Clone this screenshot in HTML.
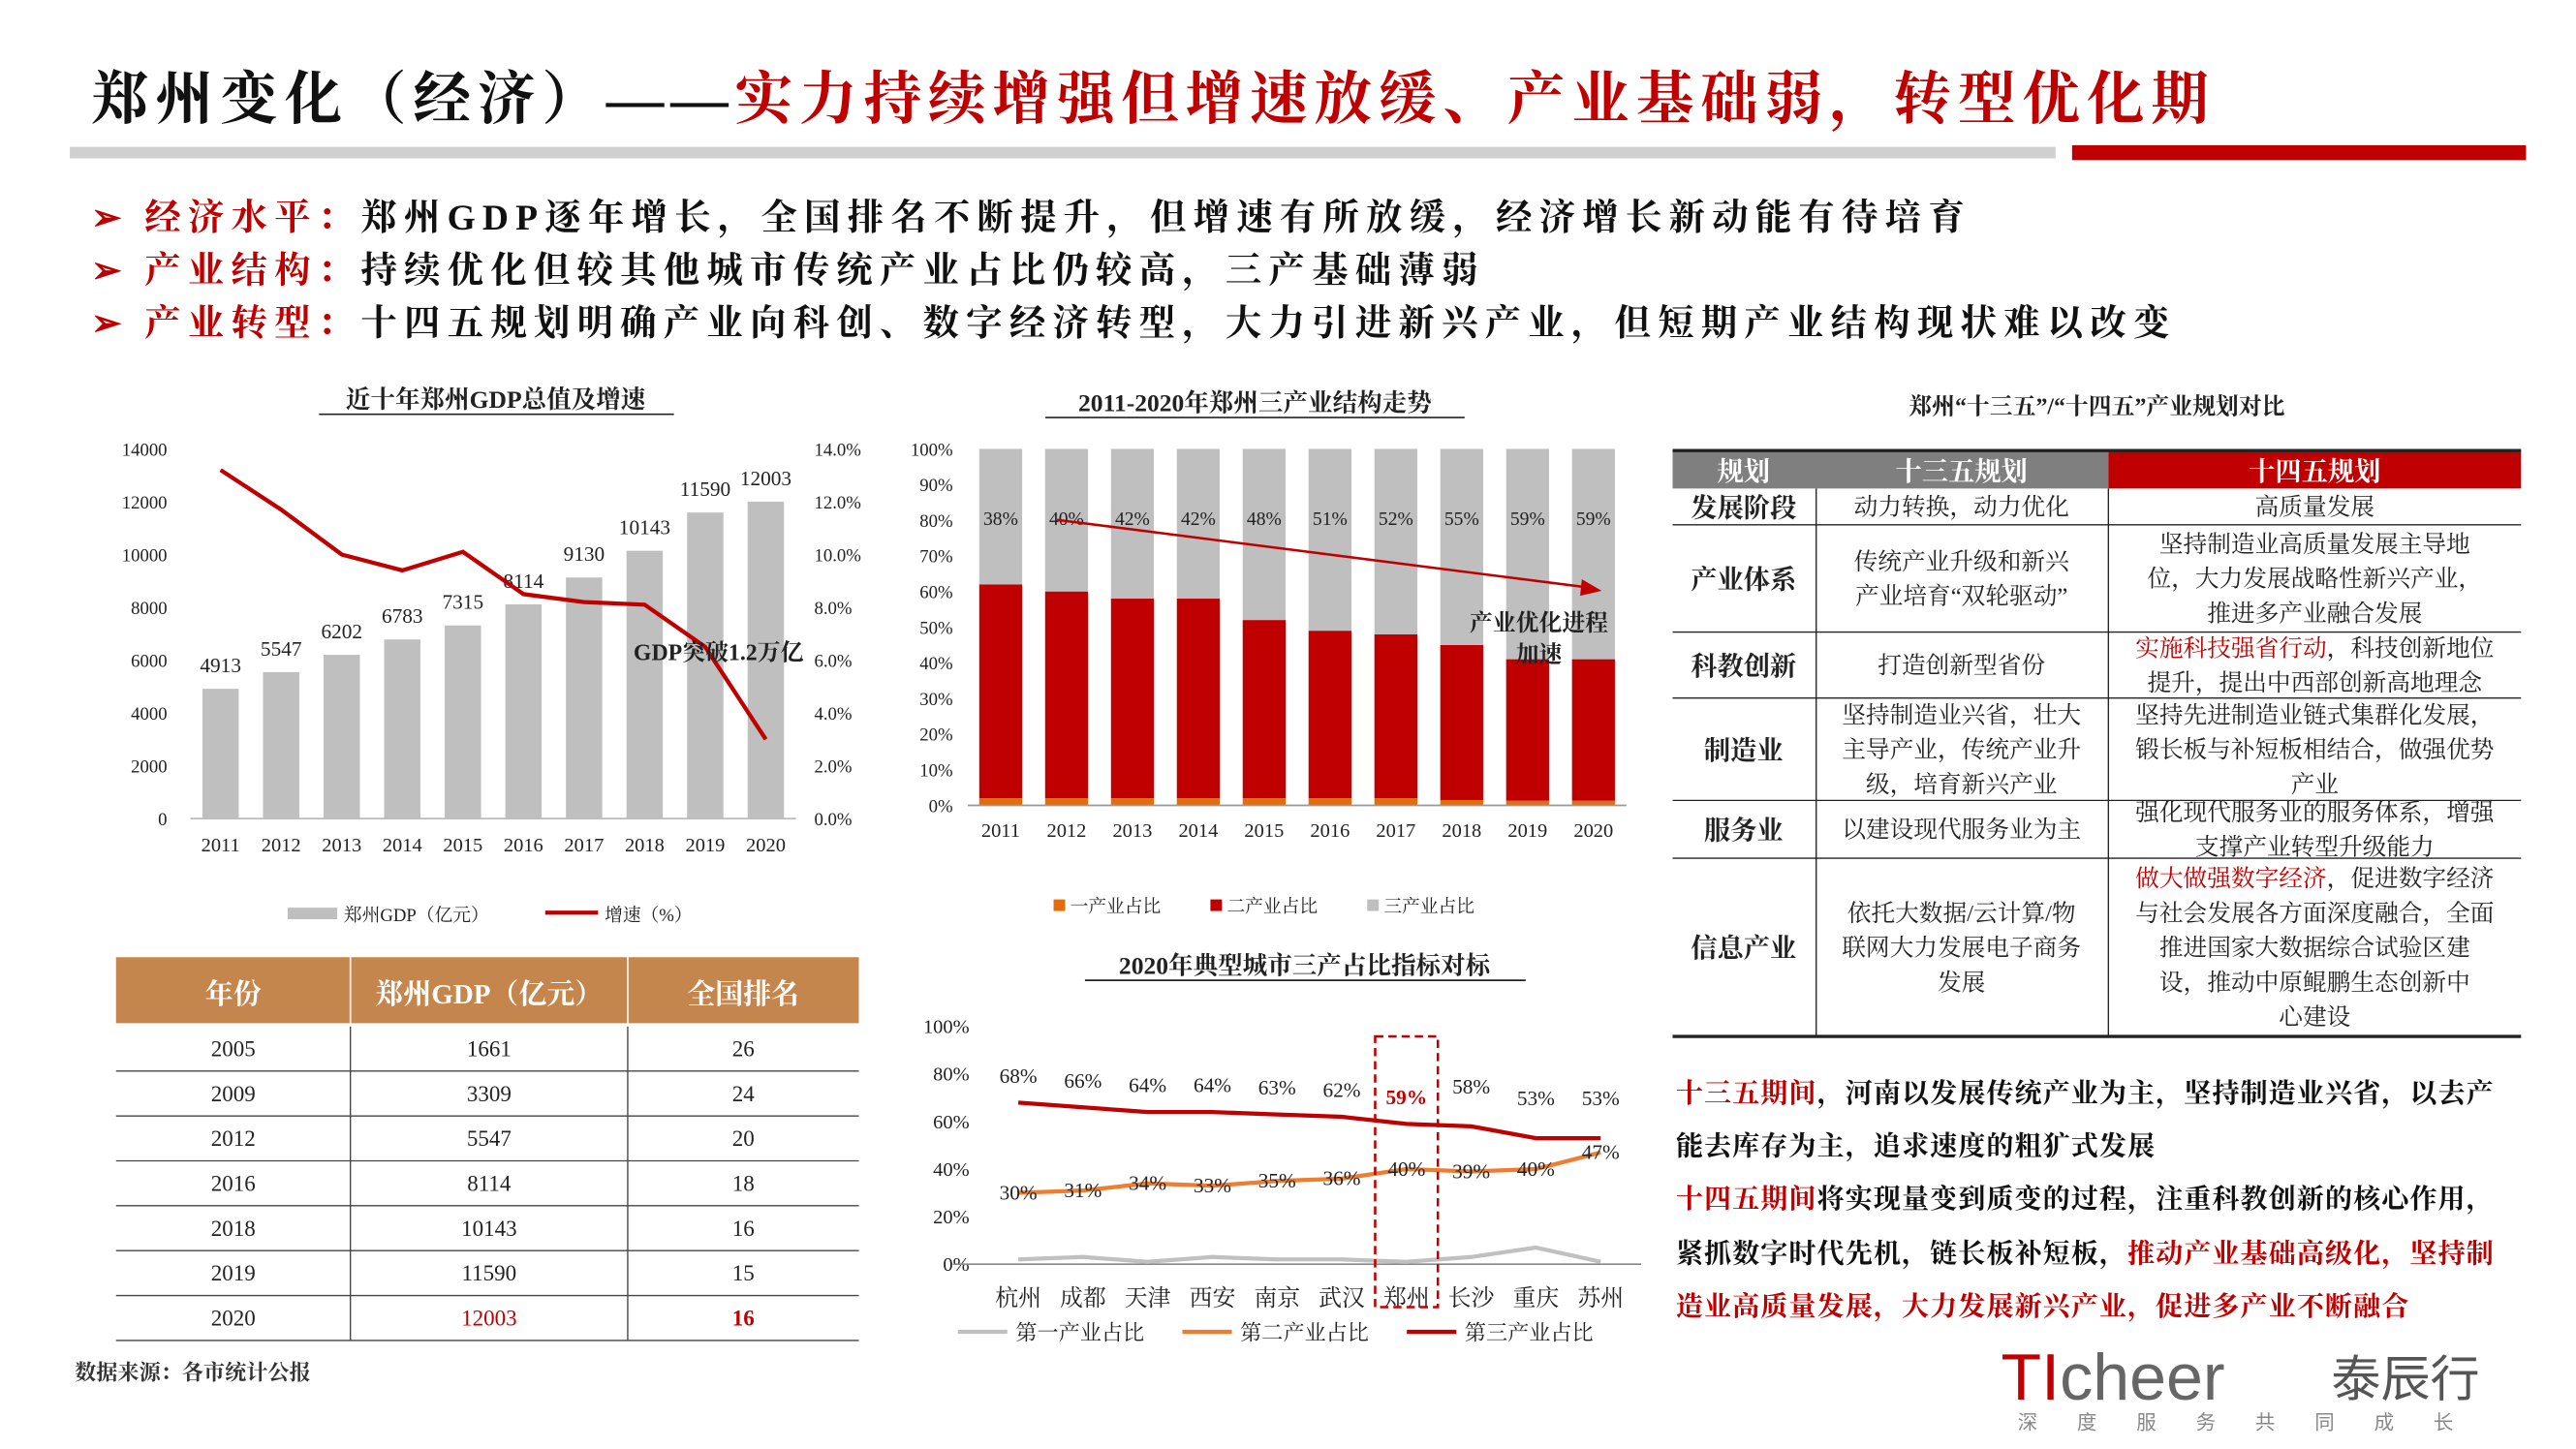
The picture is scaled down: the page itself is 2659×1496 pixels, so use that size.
<!DOCTYPE html>
<html><head><meta charset="utf-8">
<style>
html,body{margin:0;padding:0;background:#fff;}
svg{display:block;font-family:"Liberation Serif","Noto Serif CJK SC","Noto Sans CJK SC",serif;}
</style></head>
<body>
<svg id="s" width="2659" height="1496" viewBox="0 0 1560 878" xmlns="http://www.w3.org/2000/svg">
<text x="55" y="72" font-size="35" font-weight="bold" fill="#111" letter-spacing="4">郑州变化（经济）——<tspan fill="#c00000">实力持续增强但增速放缓、产业基础弱，转型优化期</tspan></text>
<rect x="42" y="89" width="1203" height="7" fill="#d0d0d0"/>
<rect x="1255" y="88" width="275" height="9" fill="#c00000"/>
<g font-size="22" font-weight="bold" letter-spacing="4.2">
<text x="55" y="139" fill="#c00000">➢ 经济水平：<tspan fill="#111">郑州GDP逐年增长，全国排名不断提升，但增速有所放缓，经济增长新动能有待培育</tspan></text>
<text x="55" y="171" fill="#c00000">➢ 产业结构：<tspan fill="#111">持续优化但较其他城市传统产业占比仍较高，三产基础薄弱</tspan></text>
<text x="55" y="203" fill="#c00000">➢ 产业转型：<tspan fill="#111">十四五规划明确产业向科创、数字经济转型，大力引进新兴产业，但短期产业结构现状难以改变</tspan></text>
</g>
<g id="c1"></g>
<g id="c2"></g>
<g id="c3"></g>
<g id="t1"></g>
<g id="t2"></g>
<g font-size="16.5" font-weight="bold" letter-spacing="0.6">
<text x="1015" y="668" fill="#c00000">十三五期间<tspan fill="#111">，河南以发展传统产业为主，坚持制造业兴省，以去产</tspan></text>
<text x="1015" y="700" fill="#111">能去库存为主，追求速度的粗犷式发展</text>
<text x="1015" y="732" fill="#c00000">十四五期间<tspan fill="#111">将实现量变到质变的过程，注重科教创新的核心作用，</tspan></text>
<text x="1015" y="765" fill="#111">紧抓数字时代先机，链长板补短板，<tspan fill="#c00000">推动产业基础高级化，坚持制</tspan></text>
<text x="1015" y="797" fill="#c00000">造业高质量发展，大力发展新兴产业，促进多产业不断融合</text>
</g>
<text x="45" y="836" font-size="13" font-weight="bold" fill="#333">数据来源：各市统计公报</text>
<g>
<text x="1212" y="848" font-family="Liberation Sans,sans-serif" font-size="40" fill="#c00000">TI<tspan fill="#666">cheer</tspan></text>
<text x="1412" y="846" font-family="Liberation Sans,Noto Sans CJK SC,sans-serif" font-size="30" fill="#555">泰辰行</text>
<text x="1222" y="866" font-family="Liberation Sans,Noto Sans CJK SC,sans-serif" font-size="12" fill="#888" letter-spacing="24">深度服务共同成长</text>
</g>
</svg>
<script>
const NS='http://www.w3.org/2000/svg';
const years=['2011','2012','2013','2014','2015','2016','2017','2018','2019','2020'];
const gdpValues=[4913,5547,6202,6783,7315,8114,9130,10143,11590,12003];
const gdpGrowth=[13.2,11.7,10.0,9.4,10.1,8.5,8.2,8.1,6.5,3.0];
const gdpTicks=[0,2000,4000,6000,8000,10000,12000,14000];
const growthTicks=[0,2,4,6,8,10,12,14];
const primaryShare=[2,2,2,2,2,2,2,1.5,1.3,1.3];
const tertiaryShare=[38,40,42,42,48,51,52,55,59,59];
const pctTicks=[0,10,20,30,40,50,60,70,80,90,100];
const cities=['杭州','成都','天津','西安','南京','武汉','郑州','长沙','重庆','苏州'];
const cityPrimary=[2,3,1,3,2,2,1,3,7,1];
const citySecondary=[30,31,34,33,35,36,40,39,40,47];
const cityTertiary=[68,66,64,64,63,62,59,58,53,53];
const cityTicks=[0,20,40,60,80,100];
const rankYears=['2005','2009','2012','2016','2018','2019','2020'];
const rankGdp=['1661','3309','5547','8114','10143','11590','12003'];
const rankNo=['26','24','20','18','16','15','16'];

function el(p,t,a,txt){const e=document.createElementNS(NS,t);for(const k in a)e.setAttribute(k,a[k]);if(txt!==undefined)e.textContent=txt;p.appendChild(e);return e;}
function T(p,x,y,s,txt,o){return el(p,'text',Object.assign({x:x,y:y,'font-size':s,fill:'#222'},o||{}),txt);}

// Chart 1
(function(){
const g=document.getElementById('c1');
const x0=115,step=36.7,top=272,bot=496;
const y=v=>bot-(v/14000)*(bot-top), y2=v=>bot-(v/14)*(bot-top), cx=i=>x0+step*(i+0.5);
let t=T(g,300,247,15,'近十年郑州GDP总值及增速',{'text-anchor':'middle','font-weight':'bold'});

el(g,'line',{x1:193,y1:251,x2:408,y2:251,stroke:'#222','stroke-width':1});
gdpTicks.forEach(v=>{const e=T(g,101,y(v)+4,11,String(v),{'text-anchor':'end'});});
growthTicks.forEach(v=>{const e=T(g,493,y2(v)+4,11,v.toFixed(1)+'%');});
el(g,'line',{x1:x0,y1:bot,x2:x0+step*10,y2:bot,stroke:'#bbb'});
gdpValues.forEach((v,i)=>{
 const b=el(g,'rect',{x:cx(i)-11,y:y(v),width:22,height:bot-y(v),fill:'#bfbfbf'});
 
 T(g,cx(i),y(v)-10,12.5,String(v),{'text-anchor':'middle'});
 T(g,cx(i),516,12,years[i],{'text-anchor':'middle'});
});
const pts=gdpGrowth.map((v,i)=>cx(i)+','+y2(v)).join(' ');
const l=el(g,'polyline',{points:pts,fill:'none',stroke:'#c00000','stroke-width':2.5});

T(g,435,400,14,'GDP突破1.2万亿',{'text-anchor':'middle','font-weight':'bold'});
el(g,'rect',{x:174,y:550,width:30,height:7,fill:'#bfbfbf'});T(g,208,558,11,'郑州GDP（亿元）');
el(g,'line',{x1:330,y1:553,x2:362,y2:553,stroke:'#c00000','stroke-width':2.5});T(g,366,558,11,'增速（%）');
})();

// Chart 2
(function(){
const g=document.getElementById('c2');
const x0=586,step=39.9,top=272,bot=488;
const y=v=>bot-(v/100)*(bot-top), cx=i=>x0+step*(i+0.5);
T(g,760,249,15,'2011-2020年郑州三产业结构走势',{'text-anchor':'middle','font-weight':'bold'});
el(g,'line',{x1:633,y1:253,x2:887,y2:253,stroke:'#222'});
pctTicks.forEach(v=>T(g,577,y(v)+4,11,v+'%',{'text-anchor':'end'}));
years.forEach((yr,i)=>{
 const p=primaryShare[i],t3=tertiaryShare[i],s=100-p-t3,x=cx(i)-13;
 let r=el(g,'rect',{x:x,y:y(p),width:26,height:bot-y(p),fill:'#e46c0a'});
 r=el(g,'rect',{x:x,y:y(p+s),width:26,height:y(p)-y(p+s),fill:'#c00000'});
 r=el(g,'rect',{x:x,y:y(100),width:26,height:y(p+s)-y(100),fill:'#bfbfbf'});
 T(g,cx(i),y(100)+46,11.5,t3+'%',{'text-anchor':'middle'});
 T(g,cx(i),507,12,yr,{'text-anchor':'middle'});
});
el(g,'line',{x1:x0,y1:bot,x2:x0+step*10,y2:bot,stroke:'#999'});
el(g,'line',{x1:640,y1:315,x2:962,y2:356,stroke:'#c00000','stroke-width':1.5});
el(g,'polygon',{points:'970,358 958,351 957,361',fill:'#c00000'});
T(g,932,382,14,'产业优化进程',{'text-anchor':'middle','font-weight':'bold'});
T(g,932,401,14,'加速',{'text-anchor':'middle','font-weight':'bold'});
[['#e46c0a','一产业占比',638],['#c00000','二产业占比',733],['#bfbfbf','三产业占比',828]].forEach(a=>{el(g,'rect',{x:a[2],y:545,width:7,height:7,fill:a[0]});T(g,a[2]+10,553,11,a[1]);});
})();

// Chart 3
(function(){
const g=document.getElementById('c3');
const x0=597,step=39.2,top=622,bot=766;
const y=v=>bot-(v/100)*(bot-top), cx=i=>x0+step*(i+0.5);
T(g,790,590,15,'2020年典型城市三产占比指标对标',{'text-anchor':'middle','font-weight':'bold'});
el(g,'line',{x1:657,y1:594,x2:924,y2:594,stroke:'#222'});
cityTicks.forEach(v=>T(g,587,y(v)+4,12,v+'%',{'text-anchor':'end'}));
el(g,'line',{x1:x0-20,y1:bot,x2:x0+step*10+5,y2:bot,stroke:'#888'});
[[cityPrimary,'#c0c0c0','primary-line'],[citySecondary,'#ed7d31','secondary-line'],[cityTertiary,'#c00000','tertiary-line']].forEach(a=>{
 const l=el(g,'polyline',{points:a[0].map((v,i)=>cx(i)+','+y(v)).join(' '),fill:'none',stroke:a[1],'stroke-width':2.5});
 
});
cities.forEach((c,i)=>{
 T(g,cx(i),y(cityTertiary[i])-12-(i>6?8:0),12.5,cityTertiary[i]+'%',{'text-anchor':'middle',fill:i==6?'#c00000':'#222','font-weight':i==6?'bold':'normal'});
 T(g,cx(i),y(citySecondary[i])+4,12.5,citySecondary[i]+'%',{'text-anchor':'middle'});
 T(g,cx(i),791,14,c,{'text-anchor':'middle'});
});
el(g,'rect',{x:cx(6)-19,y:628,width:38,height:164,fill:'none',stroke:'#c00000','stroke-width':1.5,'stroke-dasharray':'5,3'});
[['#c0c0c0','第一产业占比',580],['#ed7d31','第二产业占比',716],['#c00000','第三产业占比',852]].forEach(a=>{el(g,'line',{x1:a[2],y1:807,x2:a[2]+30,y2:807,stroke:a[0],'stroke-width':2.5});T(g,a[2]+35,812,13,a[1]);});
})();

// Table 1
(function(){
const g=document.getElementById('t1');
el(g,'rect',{x:70,y:580,width:450,height:40,fill:'#c5864d'});
[[141,'年份'],[296,'郑州GDP（亿元）'],[450,'全国排名']].forEach(a=>T(g,a[0],608,17,a[1],{'text-anchor':'middle',fill:'#fff','font-weight':'bold'}));
el(g,'line',{x1:212,y1:580,x2:212,y2:812,stroke:'#fff'});
el(g,'line',{x1:380,y1:580,x2:380,y2:812,stroke:'#fff'});
rankYears.forEach((yr,i)=>{
 const yy=622+i*27.2;
 const red=i==6?'#c00000':'#222';
 T(g,141,yy+18,13.5,yr,{'text-anchor':'middle'});
 T(g,296,yy+18,13.5,rankGdp[i],{'text-anchor':'middle',fill:red});
 T(g,450,yy+18,13.5,rankNo[i],{'text-anchor':'middle',fill:red,'font-weight':i==6?'bold':'normal'});
 el(g,'line',{x1:70,y1:yy+27,x2:520,y2:yy+27,stroke:'#444','stroke-width':0.8});
});
el(g,'line',{x1:212,y1:622,x2:212,y2:812,stroke:'#444','stroke-width':0.8});
el(g,'line',{x1:380,y1:622,x2:380,y2:812,stroke:'#444','stroke-width':0.8});
})();

// Table 2
(function(){
const g=document.getElementById('t2');
T(g,1270,251,14,'郑州“十三五”/“十四五”产业规划对比',{'text-anchor':'middle','font-weight':'bold'});
el(g,'rect',{x:1013,y:273,width:264,height:23,fill:'#7f7f7f'});
el(g,'rect',{x:1277,y:273,width:250,height:23,fill:'#c00000'});
[[1056,'规划'],[1188,'十三五规划'],[1402,'十四五规划']].forEach(a=>T(g,a[0],291,16,a[1],{'text-anchor':'middle',fill:'#fff','font-weight':'bold'}));
const rows=[
 [296,318,'发展阶段',['动力转换，动力优化'],[['高质量发展']]],
 [318,383,'产业体系',['传统产业升级和新兴','产业培育“双轮驱动”'],[['坚持制造业高质量发展主导地'],['位，大力发展战略性新兴产业，'],['推进多产业融合发展']]],
 [383,423,'科教创新',['打造创新型省份'],[['实施科技强省行动','，科技创新地位'],['提升，提出中西部创新高地理念']]],
 [423,485,'制造业',['坚持制造业兴省，壮大','主导产业，传统产业升','级，培育新兴产业'],[['坚持先进制造业链式集群化发展，'],['锻长板与补短板相结合，做强优势'],['产业']]],
 [485,520,'服务业',['以建设现代服务业为主'],[['强化现代服务业的服务体系，增强'],['支撑产业转型升级能力']]],
 [520,628,'信息产业',['依托大数据/云计算/物','联网大力发展电子商务','发展'],[['做大做强数字经济','，促进数字经济'],['与社会发展各方面深度融合，全面'],['推进国家大数据综合试验区建'],['设，推动中原鲲鹏生态创新中'],['心建设']]]
];
rows.forEach(r=>{
 const [a,b,h,m,n]=r,mid=(a+b)/2;
 T(g,1056,mid+6,16,h,{'text-anchor':'middle','font-weight':'bold'});
 m.forEach((s,i)=>T(g,1188,mid+5+(i-(m.length-1)/2)*21,14.5,s,{'text-anchor':'middle'}));
 n.forEach((s,i)=>{const e=T(g,1402,mid+5+(i-(n.length-1)/2)*21,14.5,'',{'text-anchor':'middle'});
  if(s.length==2){el(e,'tspan',{fill:'#c00000'},s[0]);el(e,'tspan',{},s[1]);}else e.textContent=s[0];});
 el(g,'line',{x1:1013,y1:b,x2:1527,y2:b,stroke:'#222','stroke-width':b==628?2:0.8});
});
el(g,'line',{x1:1013,y1:273,x2:1527,y2:273,stroke:'#222','stroke-width':2});
el(g,'line',{x1:1100,y1:296,x2:1100,y2:628,stroke:'#222','stroke-width':0.8});
el(g,'line',{x1:1277,y1:296,x2:1277,y2:628,stroke:'#222','stroke-width':0.8});
})();
</script>
</body></html>
